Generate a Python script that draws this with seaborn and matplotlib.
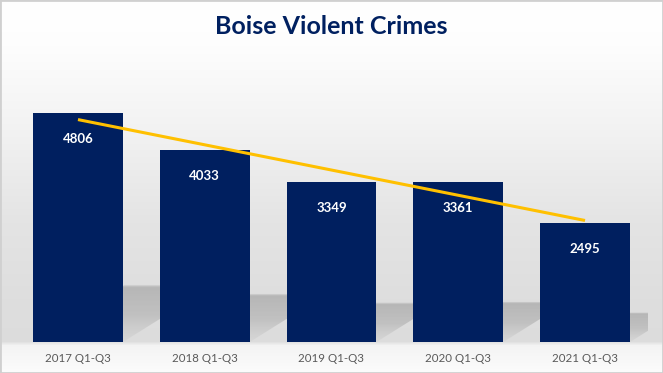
import numpy as np
import pandas as pd
import matplotlib
matplotlib.use("Agg")
import matplotlib.pyplot as plt
import seaborn as sns
from matplotlib.patches import Polygon, Rectangle
from matplotlib.colors import LinearSegmentedColormap

categories = ["2017 Q1-Q3", "2018 Q1-Q3", "2019 Q1-Q3", "2020 Q1-Q3", "2021 Q1-Q3"]
values = [4806, 4033, 3349, 3361, 2495]
title = "Boise Violent Crimes"

NAVY = "#001f5f"
TITLE_C = "#002060"
GOLD = "#ffc000"

sns.set_theme(style="white")
plt.rcParams["font.family"] = ["Lato", "DejaVu Sans"]

W, H = 663, 373
fig = plt.figure(figsize=(W / 100, H / 100), dpi=100)

# background gradient
bg = fig.add_axes([0, 0, 1, 1], zorder=0)
stops_y = [0, 40, 120, 220, 300, 341, 345, 373]
stops_v = [1.0, 0.995, 0.955, 0.895, 0.87, 0.865, 0.955, 0.99]
col = np.interp(np.arange(H), stops_y, stops_v)
img = np.repeat(col[:, None], 10, axis=1)
bg.imshow(np.dstack([img, img, img]), aspect="auto", extent=[0, 1, 0, 1], origin="upper")
bg.add_patch(Rectangle((0, 0), 1, 1, transform=bg.transAxes, fill=False,
                       edgecolor="#d0d0d0", linewidth=2))
bg.set_axis_off()

# main axes
left_px, right_px = 14.6, 648.4
bottom_px, top_px = 342, 60
ax = fig.add_axes([left_px / W, (H - bottom_px) / H, (right_px - left_px) / W,
                   (bottom_px - top_px) / H], zorder=1)
ax.patch.set_alpha(0)

df = pd.DataFrame({"period": categories, "crimes": values})
sns.barplot(data=df, x="period", y="crimes", color=NAVY, saturation=1, width=0.71,
            linewidth=0, edgecolor="none", ax=ax, zorder=3)
YMAX = 5918
ax.set_xlim(-0.5, len(categories) - 0.5)
ax.set_ylim(0, YMAX)

# perspective shadows on the floor (squashed and skewed copies of the bars)
px_per_y = (bottom_px - top_px) / YMAX
px_per_x = (right_px - left_px) / len(categories)
shadow_cmap = LinearSegmentedColormap.from_list(
    "sh", [(0.70, 0.70, 0.70, 0.0), (0.70, 0.70, 0.70, 0.9),
           (0.72, 0.72, 0.72, 0.75), (0.80, 0.80, 0.80, 0.35)])
grad = np.concatenate([np.linspace(0, 0.33, 6), np.linspace(0.33, 1, 94)])[:, None]
for p in list(ax.patches):
    x0 = p.get_x()
    x1 = x0 + p.get_width()
    hv = p.get_height() * 0.25
    shift = hv * px_per_y * 1.6 / px_per_x
    poly = Polygon([(x0, 0), (x1, 0), (x1 + shift, hv), (x0 + shift, hv)],
                   closed=True, transform=ax.transData, facecolor="none", edgecolor="none")
    ax.add_patch(poly)
    im = ax.imshow(grad * np.ones((1, 10)), cmap=shadow_cmap, aspect="auto",
                   extent=[x0, x1 + shift, 0, hv * 1.0], origin="upper", zorder=2,
                   vmin=0, vmax=1, interpolation="bilinear")
    im.set_clip_path(poly)
ax.set_xlim(-0.5, len(categories) - 0.5)
ax.set_ylim(0, YMAX)

# value labels
for i, v in enumerate(values):
    ax.text(i, v - 545, f"{v}", ha="center", va="center", color="white",
            fontsize=9.5, fontweight="bold", zorder=5)

# linear trendline
xs = np.arange(len(values))
m, b = np.polyfit(xs, values, 1)
ax.plot(xs, m * xs + b, color=GOLD, linewidth=2.2, zorder=4, solid_capstyle="butt")

ax.set_xlabel("")
ax.set_ylabel("")
ax.set_yticks([])
ax.tick_params(axis="x", length=0, pad=8, labelsize=8.3, labelcolor="#595959")
for s in ax.spines.values():
    s.set_visible(False)

fig.text(0.5, (H - 26) / H, title, ha="center", va="center", fontsize=18,
         fontweight="bold", color=TITLE_C)

fig.savefig("out.png", dpi=100)
